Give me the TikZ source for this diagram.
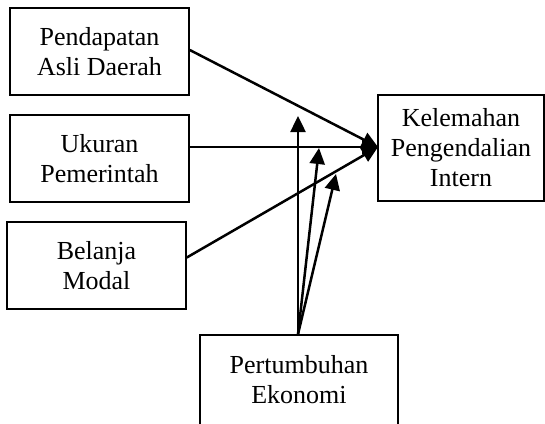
\documentclass[tikz,border=0pt]{standalone}
\usepackage{fontspec}
\setmainfont{Liberation Serif}
\usetikzlibrary{arrows.meta}
\begin{document}
\begin{tikzpicture}[x=1bp,y=-1bp,
  box/.style={draw,line width=1.6bp,rectangle,align=center,inner sep=0pt,
    font=\fontsize{26bp}{30bp}\selectfont},
  conn/.style={line width=2.5bp,-{Triangle[length=16bp,width=15bp]}}]
\useasboundingbox (0,0) rectangle (545,423);
\node[box,minimum width=179bp,minimum height=87bp] (pad) at (99.5,51.5) {Pendapatan\\Asli Daerah};
\node[box,minimum width=179bp,minimum height=87bp] (uk) at (99.5,158.5) {Ukuran\\Pemerintah};
\node[box,minimum width=179bp,minimum height=87bp] (bm) at (96.5,265.5) {Belanja\\Modal};
\node[box,minimum width=166bp,minimum height=106bp] (kel) at (461,148) {Kelemahan\\Pengendalian\\Intern};
\node[box,minimum width=198bp,minimum height=90bp] (pe) at (299,380) {Pertumbuhan\\Ekonomi};
\coordinate (t) at (378,147);
\coordinate (m1) at (298,116);
\coordinate (m2) at (319,148);
\coordinate (m3) at (336,174);
\draw[conn] ([yshift=1.5bp]pad.east) -- (t);
\draw[conn] (uk.east |- t) -- (t);
\draw[conn] ([yshift=8bp]bm.east) -- (t);
\draw[conn] ([xshift=-1bp]pe.north) -- (m1);
\draw[conn] ([xshift=-1bp]pe.north) -- (m2);
\draw[conn] ([xshift=-1bp]pe.north) -- (m3);
\end{tikzpicture}
\end{document}
